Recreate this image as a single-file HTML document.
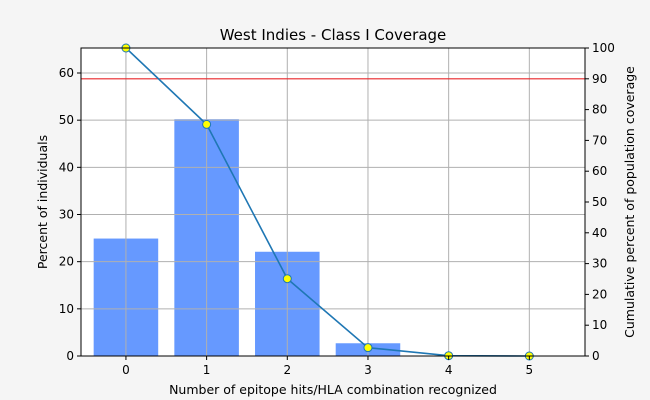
<!DOCTYPE html>
<html><head><meta charset="utf-8"><style>
body{margin:0;background:#f5f5f5;}
svg{display:block;font-family:"DejaVu Sans","Liberation Sans",sans-serif;}
</style></head><body>
<svg id="chart" width="650" height="400">
<rect x="0" y="0" width="650" height="400" fill="#f5f5f5"/>
<rect x="81" y="48" width="504" height="308" fill="#ffffff"/>
<g id="bars"></g><g id="grid"></g><g id="line"></g><g id="axes"></g>
<text x="333" y="40" font-size="15" text-anchor="middle">West Indies - Class I Coverage</text>
<text x="333" y="394" font-size="12.5" text-anchor="middle">Number of epitope hits/HLA combination recognized</text>
<text transform="translate(47,202) rotate(-90)" font-size="12.5" text-anchor="middle">Percent of individuals</text>
<text transform="translate(634,202) rotate(-90)" font-size="12.5" text-anchor="middle">Cumulative percent of population coverage</text>
</svg>
<script>
const categories=[0,1,2,3,4,5];
const barValues=[24.9,50.2,22.1,2.7,0,0];
const cumulative=[100,75.2,25.1,2.7,0.1,0];
const leftTicks=[0,10,20,30,40,50,60];
const rightTicks=[0,10,20,30,40,50,60,70,80,90,100];
const threshold=[90];
const NS="http://www.w3.org/2000/svg";
const X0=81,X1=585,Y0=356,Y1=48;
const xs=v=>X0+(v+0.557)/(5.69+0.557)*(X1-X0);
const yl=v=>Y0-v/65.3*(Y0-Y1);
const yr=v=>Y0-v/100*(Y0-Y1);
function mk(t,a,p){const e=document.createElementNS(NS,t);for(const k in a)e.setAttribute(k,a[k]);p.appendChild(e);return e;}
const bars=document.getElementById('bars'),grid=document.getElementById('grid'),line=document.getElementById('line'),axes=document.getElementById('axes');
categories.forEach((c,i)=>{if(barValues[i]<=0)return;
 const r=mk('rect',{x:xs(c-0.4),y:yl(barValues[i]),width:xs(c+0.4)-xs(c-0.4),height:Y0-yl(barValues[i]),fill:'#6699ff'},bars);
 
 });
categories.forEach(c=>{const g=mk('line',{x1:xs(c),x2:xs(c),y1:Y1,y2:Y0,stroke:'#b0b0b0','stroke-width':1},grid);
 
 
 const t=mk('line',{x1:xs(c),x2:xs(c),y1:Y0,y2:Y0+4,stroke:'#000'},axes);
 
 
 const l=mk('text',{x:xs(c),y:Y0+18,'font-size':12,'text-anchor':'middle'},axes);l.textContent=c;
 
 });
leftTicks.forEach(v=>{const g=mk('line',{x1:X0,x2:X1,y1:yl(v),y2:yl(v),stroke:'#b0b0b0','stroke-width':1},grid);
 
 
 mk('line',{x1:X0-4,x2:X0,y1:yl(v),y2:yl(v),stroke:'#000'},axes);
 const l=mk('text',{x:X0-7,y:yl(v)+4,'font-size':12,'text-anchor':'end'},axes);l.textContent=v;
 
 });
rightTicks.forEach(v=>{mk('line',{x1:X1,x2:X1+4,y1:yr(v),y2:yr(v),stroke:'#000'},axes);
 const l=mk('text',{x:X1+7,y:yr(v)+4,'font-size':12,'text-anchor':'start'},axes);l.textContent=v;
 
 });
const th=mk('line',{x1:X0,x2:X1,y1:yr(threshold[0]),y2:yr(threshold[0]),stroke:'#e8262a','stroke-width':1.2},line);


const pl=mk('polyline',{points:categories.map((c,i)=>xs(c)+','+yr(cumulative[i])).join(' '),fill:'none',stroke:'#1f77b4','stroke-width':1.6},line);


categories.forEach((c,i)=>{const m=mk('circle',{cx:xs(c),cy:yr(cumulative[i]),r:4,fill:'#ffff00',stroke:'#1f77b4','stroke-width':1},line);
 
 });
const fr=mk('rect',{x:X0,y:Y1,width:X1-X0,height:Y0-Y1,fill:'none',stroke:'#000','stroke-width':1},axes);


</script>
</body></html>
